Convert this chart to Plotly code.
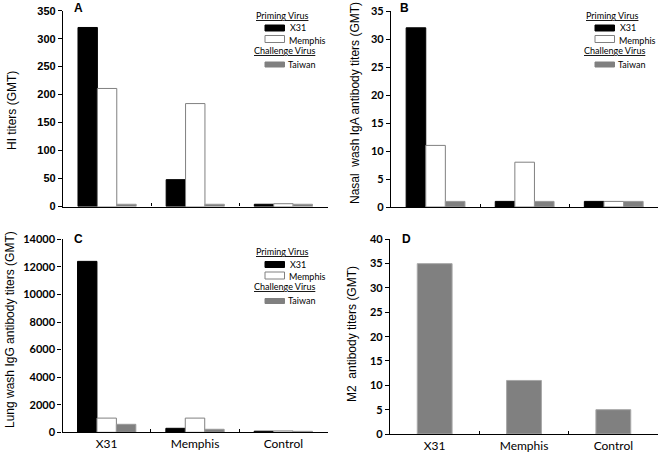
import plotly.graph_objects as go

categories = ["X31", "Memphis", "Control"]

# Panel A: HI titers
a_x31 = [320, 48, 4]
a_memphis = [211, 184, 5]
a_taiwan = [4, 4, 4]

# Panel B: Nasal wash IgA
b_x31 = [32, 1, 1]
b_memphis = [11, 8, 1]
b_taiwan = [1, 1, 1]

# Panel C: Lung wash IgG
c_x31 = [12400, 290, 80]
c_memphis = [1030, 1030, 100]
c_taiwan = [580, 220, 70]

# Panel D: M2 antibody
d_taiwan = [35, 11, 5]

W, H = 661, 456
def px(x):
    return x / W
def py(y):
    return 1 - y / H

BLACK = "#000000"
GRAY = "#808080"

fig = go.Figure()

bw = 0.22
def add_group(xa, ya, s1, s2, s3):
    fig.add_trace(go.Bar(x=categories, y=s1, xaxis=xa, yaxis=ya, width=bw, offset=-1.5 * bw,
                         marker=dict(color=BLACK, line=dict(color=BLACK, width=1)), showlegend=False))
    fig.add_trace(go.Bar(x=categories, y=s2, xaxis=xa, yaxis=ya, width=bw, offset=-0.5 * bw,
                         marker=dict(color="#ffffff", line=dict(color=GRAY, width=1)), showlegend=False))
    fig.add_trace(go.Bar(x=categories, y=s3, xaxis=xa, yaxis=ya, width=bw, offset=0.5 * bw,
                         marker=dict(color=GRAY, line=dict(color="#9a9a9a", width=1)), showlegend=False))

add_group("x", "y", a_x31, a_memphis, a_taiwan)
add_group("x2", "y2", b_x31, b_memphis, b_taiwan)
add_group("x3", "y3", c_x31, c_memphis, c_taiwan)
fig.add_trace(go.Bar(x=categories, y=d_taiwan, xaxis="x4", yaxis="y4", width=0.39, offset=-0.195,
                     marker=dict(color=GRAY, line=dict(color="#a8a8a8", width=1)), showlegend=False))

xcommon = dict(type="category", categoryorder="array", categoryarray=categories, range=[-0.5, 2.5],
               showline=True, linecolor="black", linewidth=1.3, ticks="inside", tickson="boundaries",
               ticklen=3, tickcolor="black", showgrid=False, zeroline=False, automargin=False,
               tickfont=dict(family="Lato", size=12, color="black"))
ycommon = dict(showline=True, linecolor="black", linewidth=1.3, ticks="outside", ticklen=4,
               tickcolor="black", showgrid=False, zeroline=False, automargin=False, tickformat="d")

tickA = dict(family="Liberation Sans", size=11, color="black", weight="bold")
tickB = dict(family="Lato", size=11, color="black", weight="bold")

fig.update_layout(
    width=W, height=H, margin=dict(l=0, r=0, t=0, b=0, autoexpand=False),
    paper_bgcolor="white", plot_bgcolor="white", barmode="overlay",
    xaxis=dict(xcommon, domain=[px(63), px(327.5)], anchor="y", showticklabels=False),
    yaxis=dict(ycommon, domain=[py(206.5), py(10.7)], anchor="x", range=[0, 350], dtick=50, tickfont=tickA),
    xaxis2=dict(xcommon, domain=[px(391), px(658.3)], anchor="y2", showticklabels=False),
    yaxis2=dict(ycommon, domain=[py(207), py(11)], anchor="x2", range=[0, 35], dtick=5, tickfont=tickB),
    xaxis3=dict(xcommon, domain=[px(62.5), px(327.5)], anchor="y3"),
    yaxis3=dict(ycommon, domain=[py(432.3), py(239.3)], anchor="x3", range=[0, 14000], dtick=2000, tickfont=tickB),
    xaxis4=dict(xcommon, domain=[px(390), px(658)], anchor="y4"),
    yaxis4=dict(ycommon, domain=[py(434), py(239.3)], anchor="x4", range=[0, 40], dtick=5, tickfont=tickB),
)

ann = []
# y-axis titles
ytitles = [("HI titers (GMT)", 12, 111), ("Nasal  wash IgA antibody titers (GMT)", 355, 103),
           ("Lung wash IgG antibody titers (GMT)", 10, 330), ("M2  antibody titers (GMT)", 352, 334)]
for t, x, y in ytitles:
    ann.append(dict(text=t, x=px(x), y=py(y), xref="paper", yref="paper", textangle=-90, showarrow=False,
                    xanchor="center", yanchor="middle", font=dict(family="Liberation Sans", size=12, color="black")))
# panel letters
for t, x, y in [("A", 72, 8), ("B", 398, 8), ("C", 72, 239), ("D", 400, 239)]:
    ann.append(dict(text="<b>%s</b>" % t, x=px(x), y=py(y), xref="paper", yref="paper", showarrow=False,
                    xanchor="left", yanchor="middle", font=dict(family="Liberation Sans", size=12, color="black")))

shapes = []
LF = dict(family="Lato", size=9, color="black")
def legend(dx, dy):
    ann.append(dict(text="<u>Priming Virus</u>", x=px(254 + dx), y=py(15 + dy), xref="paper", yref="paper",
                    showarrow=False, xanchor="left", yanchor="middle", font=LF))
    ann.append(dict(text="<u>Challenge Virus</u>", x=px(252 + dx), y=py(50 + dy), xref="paper", yref="paper",
                    showarrow=False, xanchor="left", yanchor="middle", font=LF))
    for t, tx, ty in [("X31", 288, 28), ("Memphis", 287, 40), ("Taiwan", 286, 64)]:
        ann.append(dict(text=t, x=px(tx + dx), y=py(ty + dy), xref="paper", yref="paper",
                        showarrow=False, xanchor="left", yanchor="middle", font=LF))
    for (y0, y1, fc, lc) in [(25, 31, BLACK, BLACK), (35.5, 42.5, "#ffffff", GRAY), (62, 67, GRAY, GRAY)]:
        shapes.append(dict(type="rect", xref="paper", yref="paper", x0=px(265 + dx), x1=px(284.5 + dx),
                           y0=py(y1 + dy), y1=py(y0 + dy), fillcolor=fc, line=dict(color=lc, width=1)))

legend(0, 0)
legend(330, 0)
legend(0, 236.5)

fig.update_layout(annotations=ann, shapes=shapes)
fig.write_html("out.html", config={"displayModeBar": False},
               post_script="document.body.style.margin='0';document.body.style.overflow='hidden';")
